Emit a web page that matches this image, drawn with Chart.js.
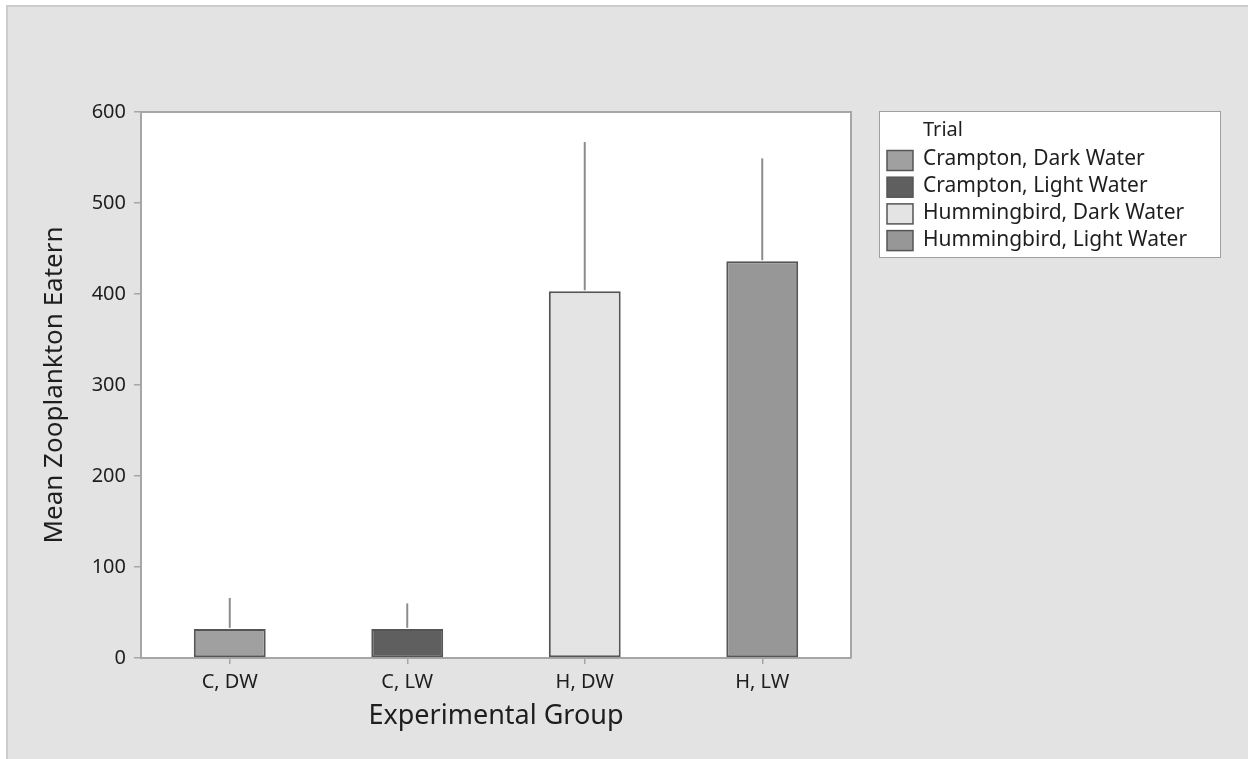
<!DOCTYPE html>
<html>
<head>
<meta charset="utf-8">
<script src="https://cdn.jsdelivr.net/npm/chart.js@4"></script>
<style>
  html, body { margin: 0; padding: 0; background: #fff; }
  #wrap { width: 1248px; height: 759px; }
</style>
</head>
<body>
<div id="wrap"><canvas id="chart" width="1248" height="759"></canvas></div>
<script>
// data
const groups = ['C, DW', 'C, LW', 'H, DW', 'H, LW'];
const trialLabels = ['Crampton, Dark Water', 'Crampton, Light Water', 'Hummingbird, Dark Water', 'Hummingbird, Light Water'];
const meanEaten = [32, 32, 403, 436];
const errorTop = [66, 60, 567, 549];
const barColors = ['#a0a0a0', '#5f5f5f', '#e4e4e4', '#979797'];
const yTicks = [0, 100, 200, 300, 400, 500, 600];

const FONT = '"Noto Sans", "Open Sans", sans-serif';

// grey panel + white plot area + frame
const backdrop = {
  id: 'backdrop',
  beforeDraw(chart) {
    const { ctx, chartArea: a } = chart;
    ctx.save();
    ctx.fillStyle = '#ffffff';
    ctx.fillRect(0, 0, chart.width, chart.height);
    ctx.fillStyle = '#cccccc';
    ctx.fillRect(6, 5, chart.width - 6, chart.height - 5);
    ctx.fillStyle = '#e3e3e3';
    ctx.fillRect(8, 7, chart.width - 8, chart.height - 7);
    ctx.fillStyle = '#ffffff';
    ctx.fillRect(a.left, a.top, a.right - a.left, a.bottom - a.top);
    ctx.restore();
  },
  afterDraw(chart) {
    const { ctx, chartArea: a } = chart;
    ctx.save();
    ctx.strokeStyle = '#a6a6a6';
    ctx.lineWidth = 2;
    ctx.beginPath();
    ctx.moveTo(a.left, a.top);
    ctx.lineTo(a.right, a.top);
    ctx.lineTo(a.right, a.bottom);
    ctx.stroke();
    ctx.restore();
  }
};

// upper error lines only, no caps
const errorLines = {
  id: 'errorLines',
  afterDatasetsDraw(chart) {
    const { ctx } = chart;
    const y = chart.scales.y;
    const meta = chart.getDatasetMeta(0);
    ctx.save();
    ctx.strokeStyle = '#8c8c8c';
    ctx.lineWidth = 2;
    meta.data.forEach((bar, i) => {
      ctx.beginPath();
      ctx.moveTo(bar.x, y.getPixelForValue(meanEaten[i]) - 1);
      ctx.lineTo(bar.x, y.getPixelForValue(errorTop[i]));
      ctx.stroke();
    });
    ctx.restore();
  }
};

// boxed legend on the right like the original
const boxLegend = {
  id: 'boxLegend',
  afterDraw(chart) {
    const { ctx } = chart;
    const bx = 879, by = 111, bw = 341, bh = 146;
    ctx.save();
    ctx.fillStyle = '#ffffff';
    ctx.fillRect(bx, by, bw, bh);
    ctx.strokeStyle = '#a0a0a0';
    ctx.lineWidth = 1;
    ctx.strokeRect(bx + 0.5, by + 0.5, bw, bh);
    ctx.fillStyle = '#1e1e1e';
    ctx.textBaseline = 'middle';
    ctx.font = '20px ' + FONT;
    ctx.fillText('Trial', 923, 130);
    ctx.font = '21px ' + FONT;
    trialLabels.forEach((lbl, i) => {
      const cy = 160.5 + i * 26.7;
      ctx.fillStyle = barColors[i];
      ctx.fillRect(887, cy - 10, 26, 20);
      ctx.strokeStyle = '#555';
      ctx.lineWidth = 1.5;
      ctx.strokeRect(887, cy - 10, 26, 20);
      ctx.fillStyle = '#1e1e1e';
      ctx.fillText(lbl, 923, cy - 1);
    });
    ctx.restore();
  }
};

new Chart(document.getElementById('chart'), {
  type: 'bar',
  data: {
    labels: groups,
    datasets: [{
      label: 'Mean Zooplankton Eatern',
      data: meanEaten,
      backgroundColor: barColors,
      borderColor: '#555555',
      borderWidth: 2,
      borderSkipped: false,
      barPercentage: 0.405,
      categoryPercentage: 1.0
    }]
  },
  options: {
    responsive: false,
    animation: false,
    layout: { padding: { top: 112, right: 397, left: 0, bottom: 0 } },
    plugins: {
      legend: { display: false },
      tooltip: { enabled: false }
    },
    scales: {
      x: {
        afterFit: (s) => { s.height = 101; },
        grid: { display: true, drawOnChartArea: false, offset: false, tickLength: 6, color: '#a6a6a6', lineWidth: 1.5 },
        border: { color: '#a6a6a6', width: 2 },
        ticks: { color: '#1e1e1e', padding: 6, font: { family: FONT, size: 20 } },
        title: { display: true, text: 'Experimental Group', color: '#1e1e1e', padding: { top: 0, bottom: 26 }, font: { family: FONT, size: 27 } }
      },
      y: {
        min: 0,
        max: 600,
        afterFit: (s) => { s.width = 141; },
        afterBuildTicks: (s) => { s.ticks = yTicks.map(v => ({ value: v })); },
        grid: { display: true, drawOnChartArea: false, tickLength: 7, color: '#a6a6a6', lineWidth: 1.5 },
        border: { color: '#a6a6a6', width: 2 },
        ticks: { color: '#1e1e1e', padding: 8, font: { family: FONT, size: 20 } },
        title: { display: true, text: 'Mean Zooplankton Eatern', color: '#1e1e1e', padding: { top: 39, bottom: 0 }, font: { family: FONT, size: 26 } }
      }
    }
  },
  plugins: [backdrop, errorLines, boxLegend]
});
</script>
</body>
</html>
